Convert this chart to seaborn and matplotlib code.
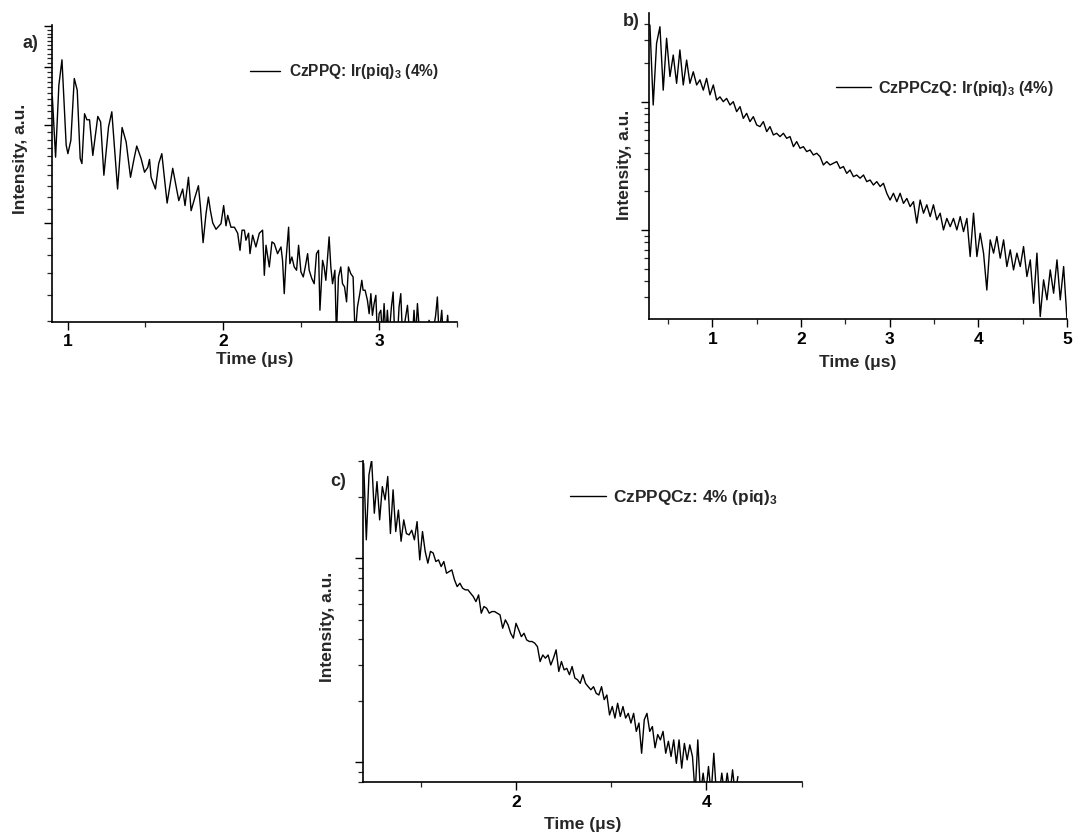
import numpy as np
import matplotlib
matplotlib.use("Agg")
import matplotlib.pyplot as plt
import seaborn as sns
from matplotlib.ticker import (LogLocator, MultipleLocator, NullFormatter,
                               FixedLocator)

# ---------------- data ----------------
time_a = [0.902, 0.923, 0.944, 0.964, 0.991, 1.002, 1.021, 1.043, 1.062, 1.081,
          1.092, 1.109, 1.124, 1.141, 1.162, 1.194, 1.212, 1.233, 1.263, 1.284,
          1.321, 1.350, 1.376, 1.404, 1.427, 1.444, 1.472, 1.494, 1.515, 1.526,
          1.536, 1.564, 1.585, 1.605, 1.639, 1.675, 1.714, 1.739, 1.754, 1.776,
          1.793, 1.818, 1.840, 1.853, 1.870, 1.889, 1.904, 1.917, 1.932, 1.953,
          1.985, 2.002, 2.017, 2.028, 2.049, 2.071, 2.092, 2.107, 2.120, 2.135,
          2.145, 2.162, 2.171, 2.188, 2.209, 2.231, 2.252, 2.263, 2.274, 2.295,
          2.312, 2.327, 2.348, 2.370, 2.380, 2.391, 2.402, 2.419, 2.427, 2.440,
          2.455, 2.470, 2.483, 2.498, 2.513, 2.526, 2.541, 2.551, 2.568, 2.583,
          2.598, 2.611, 2.620, 2.637, 2.647, 2.658, 2.669, 2.679, 2.690, 2.701,
          2.716, 2.726, 2.739, 2.754, 2.765, 2.778, 2.791, 2.803, 2.818, 2.833,
          2.846, 2.861, 2.876, 2.889, 2.897, 2.910, 2.925, 2.936, 2.947, 2.957,
          2.968, 2.979, 2.989, 3.000, 3.011, 3.021, 3.032, 3.043, 3.053, 3.064,
          3.079, 3.090, 3.100, 3.118, 3.128, 3.139, 3.150, 3.167, 3.182, 3.197,
          3.214, 3.224, 3.235, 3.246, 3.261, 3.278, 3.299, 3.321, 3.342, 3.363,
          3.374, 3.385, 3.402, 3.412, 3.427, 3.440, 3.449]
intensity_a = [2.44, 1.59, 2.64, 3.16, 1.73, 1.63, 1.79, 2.77, 2.55, 1.575,
               1.52, 2.16, 2.07, 2.07, 1.61, 2.12, 2.04, 1.40, 1.97, 2.19,
               1.27, 1.96, 1.77, 1.38, 1.575, 1.72, 1.575, 1.43, 1.48, 1.565,
               1.38, 1.27, 1.52, 1.63, 1.15, 1.47, 1.17, 1.27, 1.13, 1.38,
               1.09, 1.20, 1.30, 1.12, 0.87, 1.07, 1.20, 1.09, 1.00, 0.956,
               0.995, 1.13, 0.98, 1.055, 0.97, 0.97, 0.93, 0.824, 0.95, 0.95,
               0.885, 0.93, 0.805, 0.917, 0.844, 0.93, 0.95, 0.691, 0.854, 0.733,
               0.875, 0.864, 0.805, 0.844, 0.768, 0.607, 0.768, 0.97, 0.75, 0.786,
               0.733, 0.716, 0.854, 0.708, 0.683, 0.733, 0.805, 0.716, 0.675, 0.651,
               0.805, 0.824, 0.54, 0.768, 0.733, 0.667, 0.786, 0.906, 0.733, 0.651,
               0.716, 0.45, 0.683, 0.733, 0.651, 0.637, 0.573, 0.733, 0.699, 0.683,
               0.45, 0.553, 0.607, 0.667, 0.622, 0.622, 0.579, 0.527, 0.607, 0.521,
               0.566, 0.60, 0.45, 0.527, 0.54, 0.45, 0.566, 0.45, 0.54, 0.45,
               0.553, 0.614, 0.45, 0.45, 0.553, 0.607, 0.45, 0.503, 0.559, 0.45,
               0.45, 0.54, 0.45, 0.566, 0.45, 0.45, 0.45, 0.503, 0.45, 0.521,
               0.593, 0.45, 0.54, 0.45, 0.45, 0.521, 0.45]

time_b = [0.297, 0.334, 0.372, 0.410, 0.447, 0.485, 0.523, 0.560, 0.598, 0.635,
          0.673, 0.711, 0.748, 0.786, 0.824, 0.861, 0.899, 0.936, 0.974, 1.012,
          1.049, 1.087, 1.124, 1.162, 1.200, 1.237, 1.275, 1.313, 1.350, 1.388,
          1.425, 1.463, 1.501, 1.538, 1.576, 1.614, 1.651, 1.689, 1.726, 1.764,
          1.802, 1.839, 1.877, 1.915, 1.952, 1.990, 2.027, 2.065, 2.103, 2.140,
          2.178, 2.215, 2.253, 2.291, 2.328, 2.366, 2.404, 2.441, 2.479, 2.516,
          2.554, 2.592, 2.629, 2.667, 2.705, 2.742, 2.780, 2.817, 2.855, 2.893,
          2.930, 2.968, 3.005, 3.043, 3.081, 3.118, 3.156, 3.194, 3.231, 3.269,
          3.306, 3.344, 3.382, 3.419, 3.457, 3.494, 3.532, 3.570, 3.607, 3.645,
          3.683, 3.720, 3.758, 3.796, 3.833, 3.871, 3.908, 3.946, 3.984, 4.021,
          4.059, 4.096, 4.134, 4.172, 4.209, 4.247, 4.285, 4.322, 4.360, 4.397,
          4.435, 4.473, 4.510, 4.548, 4.586, 4.623, 4.661, 4.698, 4.736, 4.774,
          4.811, 4.849, 4.887, 4.924, 4.962, 4.999]
intensity_b = [39.6, 9.42, 28.5, 38.4, 12.3, 31.2, 15.7, 23.1, 13.9, 25.3,
               13.5, 21.1, 13.9, 17.1, 13.5, 14.8, 12.3, 15.2, 11.3, 13.5,
               10.3, 10.9, 10.0, 10.6, 9.42, 10.0, 8.36, 9.14, 7.41, 8.11,
               6.99, 7.64, 6.58, 6.39, 6.99, 5.84, 6.39, 5.50, 5.67, 5.34,
               5.67, 5.18, 5.34, 4.46, 4.88, 4.33, 4.46, 4.08, 4.20, 3.84,
               3.96, 3.73, 3.21, 3.41, 3.21, 3.31, 3.41, 3.02, 3.12, 2.76,
               2.93, 2.60, 2.68, 2.53, 2.68, 2.38, 2.45, 2.24, 2.38, 2.18,
               2.31, 1.93, 1.71, 1.93, 1.66, 1.93, 1.61, 1.76, 1.52, 1.66,
               1.13, 1.71, 1.35, 1.57, 1.27, 1.57, 1.20, 1.35, 1.00, 1.23,
               1.06, 1.23, 1.00, 1.27, 0.970, 1.23, 0.620, 1.35, 0.620, 0.942,
               0.659, 0.340, 0.836, 0.659, 0.888, 0.602, 0.836, 0.518, 0.699, 0.488,
               0.659, 0.518, 0.742, 0.433, 0.584, 0.268, 0.659, 0.211, 0.408, 0.285,
               0.488, 0.321, 0.584, 0.285, 0.518, 0.205]

time_c = [0.400, 0.428, 0.456, 0.484, 0.512, 0.540, 0.568, 0.596, 0.625, 0.653,
          0.681, 0.709, 0.737, 0.765, 0.793, 0.821, 0.849, 0.877, 0.905, 0.933,
          0.961, 0.989, 1.018, 1.046, 1.074, 1.102, 1.130, 1.158, 1.186, 1.214,
          1.242, 1.270, 1.298, 1.326, 1.354, 1.382, 1.411, 1.439, 1.467, 1.495,
          1.523, 1.551, 1.579, 1.607, 1.635, 1.663, 1.691, 1.719, 1.747, 1.775,
          1.804, 1.832, 1.860, 1.888, 1.916, 1.944, 1.972, 2.000, 2.028, 2.056,
          2.084, 2.112, 2.140, 2.168, 2.196, 2.225, 2.253, 2.281, 2.309, 2.337,
          2.365, 2.393, 2.421, 2.449, 2.477, 2.505, 2.533, 2.561, 2.589, 2.618,
          2.646, 2.674, 2.702, 2.730, 2.758, 2.786, 2.814, 2.842, 2.870, 2.898,
          2.926, 2.954, 2.982, 3.011, 3.039, 3.067, 3.095, 3.123, 3.151, 3.179,
          3.207, 3.235, 3.263, 3.291, 3.319, 3.347, 3.375, 3.404, 3.432, 3.460,
          3.488, 3.516, 3.544, 3.572, 3.600, 3.628, 3.656, 3.684, 3.712, 3.740,
          3.768, 3.797, 3.825, 3.853, 3.881, 3.909, 3.937, 3.965, 3.993, 4.021,
          4.049, 4.077, 4.105, 4.133, 4.161, 4.190, 4.218, 4.246, 4.274, 4.302,
          4.330]
intensity_c = [29.1, 12.3, 25.6, 30.3, 16.6, 23.7, 15.4, 22.4, 19.3, 25.1,
               13.2, 21.6, 13.5, 17.2, 12.1, 15.4, 13.2, 13.0, 13.7, 12.3,
               15.1, 9.81, 13.5, 10.8, 9.45, 10.8, 10.6, 9.63, 9.81, 9.10,
               9.63, 8.44, 8.60, 8.76, 7.83, 7.26, 7.54, 7.13, 7.00, 7.00,
               6.74, 6.49, 6.13, 6.61, 5.38, 5.80, 5.69, 5.38, 5.48, 5.48,
               5.38, 5.28, 4.54, 4.99, 4.72, 4.29, 4.06, 4.80, 4.46, 4.13,
               4.29, 3.98, 3.91, 3.91, 3.84, 3.69, 3.12, 3.36, 3.24, 3.36,
               3.00, 3.24, 3.56, 2.79, 3.12, 2.84, 2.89, 2.69, 2.95, 2.59,
               2.54, 2.44, 2.69, 2.44, 2.35, 2.27, 2.35, 2.18, 2.14, 2.35,
               2.03, 2.14, 1.71, 1.88, 1.65, 1.95, 1.68, 1.88, 1.65, 1.74,
               1.56, 1.74, 1.42, 1.56, 1.11, 1.62, 1.74, 1.42, 1.50, 1.18,
               1.37, 1.29, 1.42, 1.11, 1.27, 1.07, 1.29, 0.99, 1.29, 0.938,
               1.24, 1.03, 1.22, 1.07, 0.7, 1.29, 0.7, 0.887, 0.7, 0.956,
               0.7, 1.11, 0.7, 0.7, 0.887, 0.7, 0.887, 0.7, 0.921, 0.7,
               0.854]

legend_labels = [r"CzPPQ: Ir(piq)$_\mathbf{3}$ (4%)",
                 r"CzPPCzQ: Ir(piq)$_\mathbf{3}$ (4%)",
                 r"CzPPQCz: 4% (piq)$_\mathbf{3}$"]
panel_tags = ["a)", "b)", "c)"]
x_label = "Time (\u03bcs)"
y_label = "Intensity, a.u."

# ---------------- style ----------------
sns.set_style("ticks")
plt.rcParams['font.family'] = ['Liberation Sans', 'DejaVu Sans']
plt.rcParams['font.weight'] = 'bold'
plt.rcParams['axes.labelweight'] = 'bold'
plt.rcParams['mathtext.fontset'] = 'custom'
plt.rcParams['mathtext.rm'] = 'Liberation Sans:bold'
plt.rcParams['mathtext.bf'] = 'Liberation Sans:bold'
plt.rcParams['mathtext.it'] = 'Liberation Sans:bold'

W, H = 1074, 838
fig = plt.figure(figsize=(W / 100, H / 100), dpi=100)


def px_rect(left, top, right, bottom):
    return [left / W, 1 - bottom / H, (right - left) / W, (bottom - top) / H]


panels = [
    dict(t=time_a, y=intensity_a, rect=px_rect(52, 25, 457, 322),
         xlim=(0.9, 3.5), ylim=(0.497, 4.04), xmaj=1, xmin=0.5,
         ymaj=FixedLocator([1, 2, 3, 4]), ymin=MultipleLocator(0.1),
         leg=(0.489, 0.842), hl=1.9, htp=0.6, legsize=11.2, tag=(30, 43),
         ylab=(-0.059, 0.549), xlab=(0.501, -0.101)),
    dict(t=time_b, y=intensity_b, rect=px_rect(649.3, 12.7, 1067, 319),
         xlim=(0.29, 5.0), ylim=(0.202, 49.4), xmaj=1, xmin=0.5,
         ymaj=LogLocator(base=10),
         ymin=LogLocator(base=10, subs=np.arange(2, 10)),
         leg=(0.447, 0.754), hl=2.2, htp=0.4, legsize=11.6, tag=(631, 22),
         ylab=(-0.041, 0.503), xlab=(0.5, -0.1175)),
    dict(t=time_c, y=intensity_c, rect=px_rect(362.7, 460.7, 801.7, 782.3),
         xlim=(0.39, 5.0), ylim=(0.80, 30.0), xmaj=2, xmin=1,
         ymaj=LogLocator(base=10),
         ymin=LogLocator(base=10, subs=np.arange(2, 10)),
         leg=(0.472, 0.887), hl=2.1, htp=0.4, legsize=12.4, tag=(338, 482),
         ylab=(-0.063, 0.483), xlab=(0.502, -0.107)),
]

for p, lab, tag in zip(panels, legend_labels, panel_tags):
    ax = fig.add_axes(p['rect'])
    ax.set_yscale('log')
    sns.lineplot(x=p['t'], y=p['y'], ax=ax, color='black', lw=1.0,
                 label=lab, sort=False, estimator=None)
    ax.set_xlim(*p['xlim'])
    ax.set_ylim(*p['ylim'])
    ax.xaxis.set_major_locator(MultipleLocator(p['xmaj']))
    ax.xaxis.set_minor_locator(MultipleLocator(p['xmin']))
    ax.yaxis.set_major_locator(p['ymaj'])
    ax.yaxis.set_minor_locator(p['ymin'])
    ax.yaxis.set_major_formatter(NullFormatter())
    ax.yaxis.set_minor_formatter(NullFormatter())
    ax.tick_params(which='major', direction='out', length=6, width=1.0,
                   labelsize=12.5, colors='black', pad=3)
    ax.tick_params(which='minor', direction='out', length=3.5, width=0.9)
    for s in ['left', 'bottom']:
        ax.spines[s].set_linewidth(1.2)
        ax.spines[s].set_color('black')
    sns.despine(ax=ax)
    ax.set_xlabel(x_label, fontsize=12.5, fontweight='bold')
    ax.set_ylabel(y_label, fontsize=12.5, fontweight='bold')
    ax.xaxis.set_label_coords(*p['xlab'])
    ax.yaxis.set_label_coords(*p['ylab'])
    ax.legend(loc='center left', bbox_to_anchor=p['leg'], frameon=False,
              handlelength=p['hl'], handletextpad=p['htp'], borderpad=0,
              borderaxespad=0, prop={'size': p['legsize'], 'weight': 'bold'})
    fig.text(p['tag'][0] / W, 1 - p['tag'][1] / H, tag, ha='center',
             va='center', fontsize=13, fontweight='bold')

fig.savefig("out.png", dpi=100)
